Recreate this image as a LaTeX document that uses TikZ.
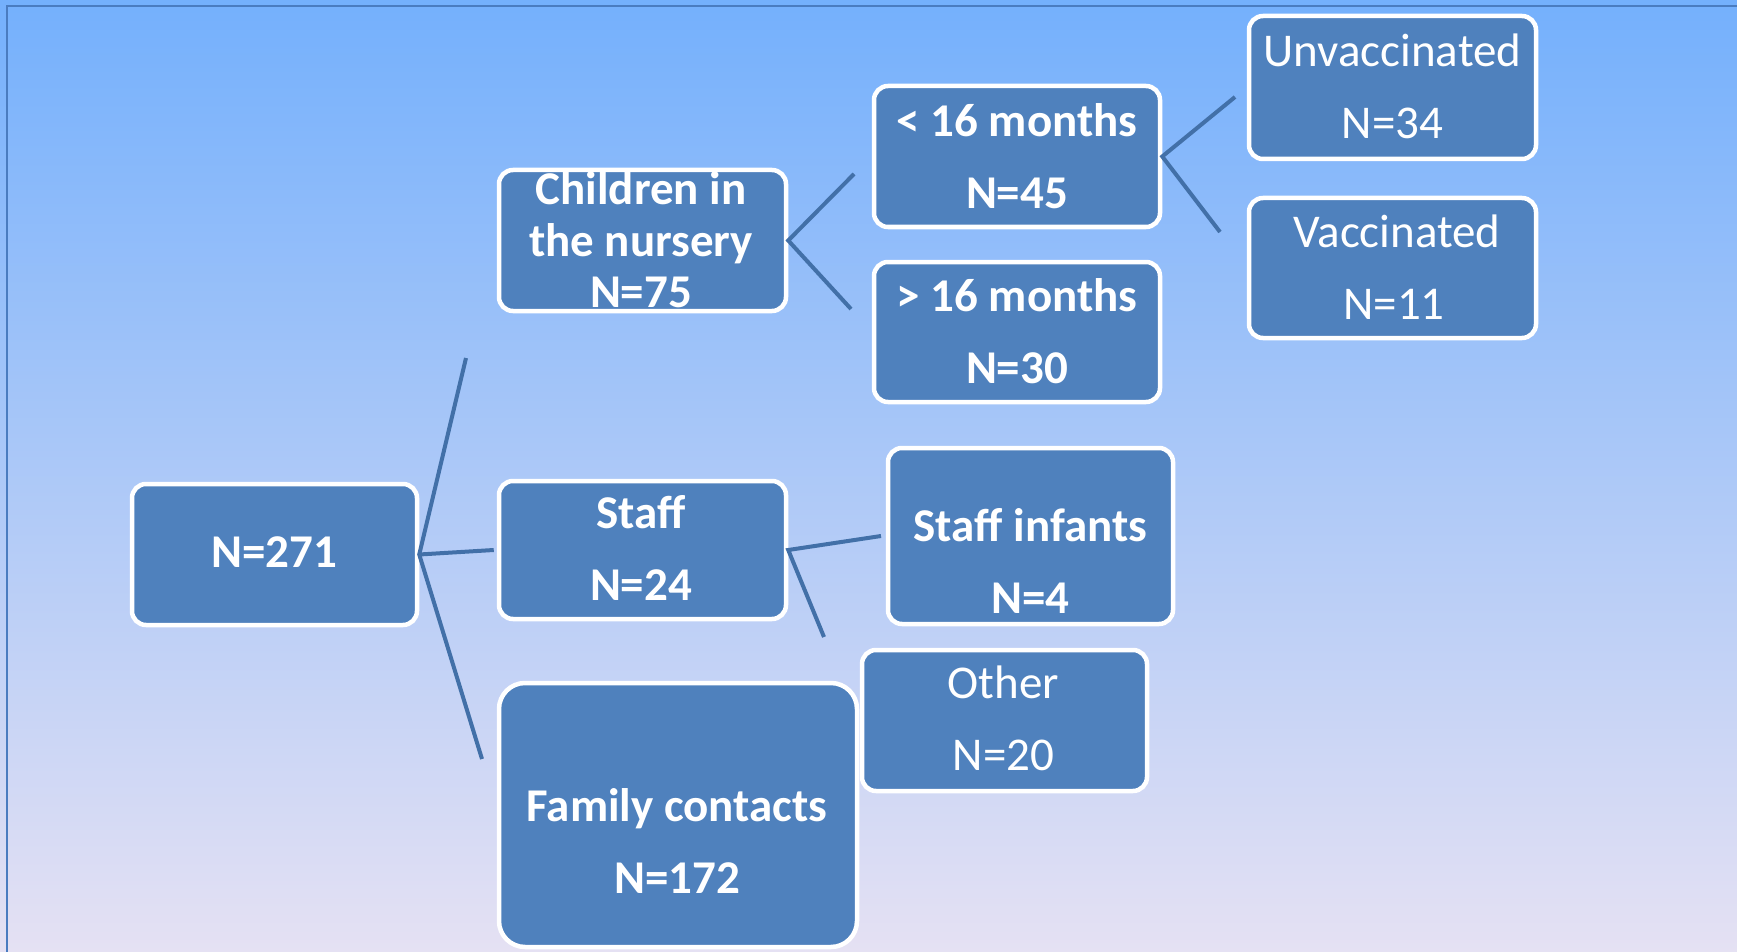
\documentclass[tikz,border=0pt]{standalone}
\usepackage{fontspec}
\setmainfont{Carlito}
\definecolor{boxfill}{HTML}{4F81BD}
\definecolor{linecol}{HTML}{4270A8}
\definecolor{bgtop}{RGB}{116,176,252}
\definecolor{bgmid}{RGB}{176,206,241}
\definecolor{bgbot}{RGB}{229,225,243}
\definecolor{framecol}{HTML}{4A7CC0}
\tikzset{
  box/.style={draw=white, line width=4.5pt, fill=boxfill, rounded corners=14pt, inner sep=0pt},
  lbl/.style={text=white, inner sep=0pt, align=center, font=\fontsize{47}{72}\selectfont},
  blbl/.style={lbl, font=\fontsize{47}{72}\selectfont\bfseries},
  conn/.style={draw=linecol, line width=4pt}
}
\begin{document}
\begin{tikzpicture}[x=1pt,y=-1pt]
\useasboundingbox (0,0) rectangle (1737,952);
\shade[top color=bgtop, middle color=bgmid, bottom color=bgbot] (0,0) rectangle (1737,952);
\draw[framecol, line width=2pt] (1737,6) -- (7,6) -- (7,952);

% boxes
\node[box, minimum width=285pt, minimum height=141pt] (n271) at (274.5,554.5) {};
\node[box, minimum width=287pt, minimum height=141pt] (child) at (642.5,240.5) {};
\node[box, minimum width=287pt, minimum height=138pt] (staff) at (642.5,550) {};
\node[box, minimum width=286pt, minimum height=141pt] (lt16) at (1017,156.5) {};
\node[box, minimum width=286pt, minimum height=140pt] (gt16) at (1017,332) {};
\node[box, minimum width=287pt, minimum height=143pt] (unv) at (1392.5,87.5) {};
\node[box, minimum width=287pt, minimum height=140pt] (vac) at (1392.5,268) {};
\node[box, minimum width=285pt, minimum height=176pt] (si) at (1030.5,536) {};
\node[box, minimum width=285pt, minimum height=141pt] (oth) at (1004.5,720.5) {};
\node[box, rounded corners=26pt, minimum width=358pt, minimum height=264pt] (fam) at (678,815) {};

% free ends
\coordinate (a1) at (466,358);
\coordinate (a3) at (482,759);
\coordinate (c1) at (854,174);
\coordinate (c2) at (851,309);
\coordinate (u1) at (1235,97);
\coordinate (u2) at (1220,232);
\coordinate (s1) at (881,536);
\coordinate (s2) at (824,637);

% connectors
\draw[conn] (a1) -- (n271.east) -- (a3);
\draw[conn] (n271.east) -- ([xshift=-3pt]staff.west);
\draw[conn] (c1) -- (child.east) -- (c2);
\draw[conn] (u1) -- (lt16.east) -- (u2);
\draw[conn] (s1) -- (staff.east) -- (s2);

% labels
\node[blbl] (tn271) at (274.5,552) {N=271};
\node[blbl, font=\fontsize{47}{51.5}\selectfont\bfseries] (tchild) at (641,240) {Children in\\the nursery\\N=75};
\node[blbl] (tstaff) at (641,548) {Staff\\N=24};
\node[blbl] (tlt16) at (1017,156) {< 16 months\\N=45};
\node[blbl] (tgt16) at (1017,331.5) {> 16 months\\N=30};
\node[lbl] (tunv) at (1392.5,86) {Unvaccinated\\N=34};
\node[lbl] (tvac) at (1394,267) {\hspace*{6pt}Vaccinated\\N=11};
\node[blbl] (tsi) at (1030.5,561) {Staff infants\\N=4};
\node[lbl] (toth) at (1003.5,718) {Other\\N=20};
\node[blbl] (tfam) at (677,841) {Family contacts\\N=172};
\end{tikzpicture}
\end{document}
